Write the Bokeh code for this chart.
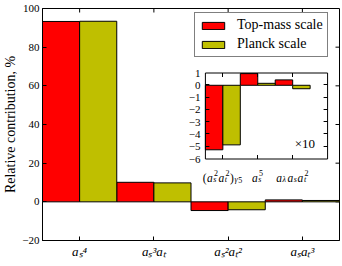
import numpy as np
from bokeh.plotting import figure
from bokeh.models import Range1d, Legend, LegendItem, FixedTicker
from bokeh.core.properties import value
from bokeh.embed import file_html
from bokeh.resources import INLINE

# Relative contribution (%) of each order, for the two matching scales
orders = ["a_s^4", "a_s^3a_t", "a_s^2a_t^2", "a_sa_t^3"]
top_mass_scale = [93.3, 10.1, -4.5, 1.0]
planck_scale = [93.4, 9.8, -4.1, 0.7]

# Small contributions, magnified ten times in the inset
inset_orders = ["(a_s^2a_t^2)_{γ5}", "a_s^5", "a_λa_sa_t^2"]
inset_top_mass_scale = [-5.25, 0.95, 0.44]
inset_planck_scale = [-4.85, 0.16, -0.28]
inset_factor = "×10"

y_ticks = [-20, 0, 20, 40, 60, 80, 100]
inset_y_ticks = [-6, -5, -4, -3, -2, -1, 0, 1]
series_names = ["Top-mass scale", "Planck scale"]
y_title = "Relative contribution, %"

RED = "#ff0000"
OLIVE = "#bfbf00"
SERIF = "Liberation Serif"

W, H = 342, 266
BL, BR, BT, BB = 40, 3, 8, 26
FW, FH = W - BL - BR, H - BT - BB
X0, X1 = -0.5, len(orders) - 0.5
Y0, Y1 = y_ticks[0], y_ticks[-1]


def dx(px):
    return X0 + (px - BL) / FW * (X1 - X0)


def dy(py):
    return Y1 - (py - BT) / FH * (Y1 - Y0)


def minus(v):
    return str(v).replace("-", "\u2212")


SUB_CH = {"s": "\u209b", "t": "\u209c", "5": "\u2085"}
SUP_CH = {"2": "\u00b2", "3": "\u00b3", "4": "\u2074", "5": "\u2075"}


def to_unicode(tex):
    out, i = "", 0
    while i < len(tex):
        c = tex[i]
        if c in "_^":
            table = SUB_CH if c == "_" else SUP_CH
            out += table.get(tex[i + 1], tex[i + 1])
            i += 2
        else:
            out += c
            i += 1
    return out


# --- tiny TeX-like layout: base letters with sub/superscripts -------------
WIDTHS = {"a": 0.52, "s": 0.40, "t": 0.30, "(": 0.36, ")": 0.36,
          "λ": 0.56, "γ": 0.48}


def char_w(c, size):
    return WIDTHS.get(c, 0.5) * size


def parse(tex):
    atoms, i = [], 0
    while i < len(tex):
        c = tex[i]
        if c in "_^":
            if tex[i + 1] == "{":
                j = tex.index("}", i)
                arg, i = tex[i + 2:j], j + 1
            else:
                arg, i = tex[i + 1], i + 2
            atoms[-1]["sub" if c == "_" else "sup"] = arg
        else:
            atoms.append({"base": c})
            i += 1
    return atoms


def layout(tex, base, script, sub_dy, sup_dy):
    """Return (char, x_px, dy_px, size) pieces centred on 0."""
    pieces, x = [], 0.0
    for at in parse(tex):
        pieces.append((at["base"], x, 0.0, base))
        x += char_w(at["base"], base)
        adv = 0.0
        for key, shift, off in (("sub", 0.3, sub_dy), ("sup", 1.0, sup_dy)):
            if key in at:
                cx = x + shift
                for c in at[key]:
                    pieces.append((c, cx, off, script))
                    cx += char_w(c, script)
                adv = max(adv, cx - x)
        x += adv + (0.6 if adv else 0.0)
    half = x / 2
    return [(c, px - half, d, s) for c, px, d, s in pieces]


def style(c):
    return "italic" if c.isalpha() else "normal"


p = figure(width=W, height=H, x_range=Range1d(X0, X1), y_range=Range1d(Y0, Y1),
           output_backend="svg", toolbar_location=None,
           min_border_left=BL, min_border_right=BR, min_border_top=BT,
           min_border_bottom=BB)
p.background_fill_color = "white"
p.border_fill_color = "white"
p.outline_line_color = "black"
p.outline_line_width = 1
p.xgrid.visible = False
p.ygrid.visible = False


def tick_style(ax):
    ax.major_tick_in = 4
    ax.major_tick_out = 0
    ax.minor_tick_line_color = None
    ax.axis_line_color = "black"
    ax.major_tick_line_color = "black"
    ax.major_label_text_color = "black"


idx = np.arange(len(orders))

yax = p.yaxis[0]
yax.ticker = FixedTicker(ticks=y_ticks)
yax.major_label_overrides = {v: minus(v) for v in y_ticks}
yax.major_label_text_font = SERIF
yax.major_label_text_font_size = "11px"
yax.major_label_standoff = 3
yax.axis_label = y_title
yax.axis_label_text_font = SERIF
yax.axis_label_text_font_size = "14px"
yax.axis_label_text_font_style = "normal"
yax.axis_label_text_color = "black"
yax.axis_label_standoff = 1
tick_style(yax)

xax = p.xaxis[0]
xax.ticker = FixedTicker(ticks=list(idx))
xax.major_label_overrides = {int(i): to_unicode(t) for i, t in enumerate(orders)}
xax.major_label_text_font = SERIF
xax.major_label_text_font_size = "13px"
xax.major_label_text_font_style = "italic"
xax.major_label_standoff = 3
tick_style(xax)

# inward ticks along the top and right frame edges
tick_x = 4 / (FW / (X1 - X0))
tick_y = 4 / (FH / (Y1 - Y0))
yt_main = np.array(y_ticks[1:-1])
p.segment(x0=X1, x1=X1 - tick_x, y0=yt_main, y1=yt_main, line_color="black")
p.segment(x0=idx, x1=idx, y0=Y1, y1=Y1 - tick_y, line_color="black")

# main bars
r_top = p.vbar(x=idx - 0.25, top=top_mass_scale, width=0.5, fill_color=RED,
               line_color="black", line_width=1)
r_planck = p.vbar(x=idx + 0.25, top=planck_scale, width=0.5, fill_color=OLIVE,
                  line_color="black", line_width=1)

# --- inset --------------------------------------------------------------
IX0, IX1 = -0.5, 3.0
IY0, IY1 = inset_y_ticks[0], inset_y_ticks[-1]
in_l, in_r, in_t, in_b = 204, 327, 72.5, 158.5
ppu_x = (in_r - in_l) / (IX1 - IX0)
ppu_y = (in_b - in_t) / (IY1 - IY0)

sub = p.subplot(x_source=Range1d(IX0, IX1), y_source=Range1d(IY0, IY1),
                x_target=Range1d(dx(in_l), dx(in_r)),
                y_target=Range1d(dy(in_b), dy(in_t)))
sub.quad(left=IX0, right=IX1, bottom=IY0, top=IY1, fill_color="white",
         line_color=None)

iidx = np.arange(len(inset_orders))
sub.vbar(x=iidx - 0.25, top=inset_top_mass_scale, width=0.5, fill_color=RED,
         line_color="black", line_width=1)
sub.vbar(x=iidx + 0.25, top=inset_planck_scale, width=0.5, fill_color=OLIVE,
         line_color="black", line_width=1)

sub.quad(left=IX0, right=IX1, bottom=IY0, top=IY1, fill_color=None,
         line_color="black", line_width=1)

tx = 4 / ppu_x
ty = 4 / ppu_y
sub.segment(x0=iidx, x1=iidx, y0=IY0, y1=IY0 + ty, line_color="black")
sub.segment(x0=iidx, x1=iidx, y0=IY1, y1=IY1 - ty, line_color="black")
yt = np.array(inset_y_ticks[1:-1])
sub.segment(x0=IX0, x1=IX0 + tx, y0=yt, y1=yt, line_color="black")
sub.segment(x0=IX1, x1=IX1 - tx, y0=yt, y1=yt, line_color="black")

sub.text(x=IX0, y=inset_y_ticks, text=[minus(v) for v in inset_y_ticks],
         x_offset=-5, text_align="right", text_baseline="middle",
         text_font=value(SERIF), text_font_size="11px", text_color="black")

for i, tex in enumerate(inset_orders):
    for c, px, d, s in layout(tex, 11.5, 8, 2.2, -4.8):
        sub.text(x=i, y=IY0, x_offset=px, y_offset=18.5 + d, text=[c],
                 text_align="left", text_baseline="alphabetic",
                 text_font=value(SERIF), text_font_size=f"{s}px",
                 text_font_style=style(c), text_color="black")

sub.text(x=2.35, y=-4.7, text=[inset_factor], text_align="center",
         text_baseline="middle", text_font=value(SERIF), text_font_size="13px",
         text_color="black")

legend = Legend(items=[LegendItem(label=series_names[0], renderers=[r_top]),
                       LegendItem(label=series_names[1], renderers=[r_planck])],
                location=(152, 183))
legend.label_text_font = SERIF
legend.label_text_font_size = "14px"
legend.label_text_color = "black"
legend.glyph_width = 28
legend.glyph_height = 9
legend.label_standoff = 10
legend.padding = 4
legend.spacing = 3
legend.margin = 0
legend.border_line_color = "black"
legend.border_line_width = 1
legend.background_fill_color = "white"
legend.background_fill_alpha = 1
p.add_layout(legend)

open("out.html", "w").write(file_html(p, INLINE))
